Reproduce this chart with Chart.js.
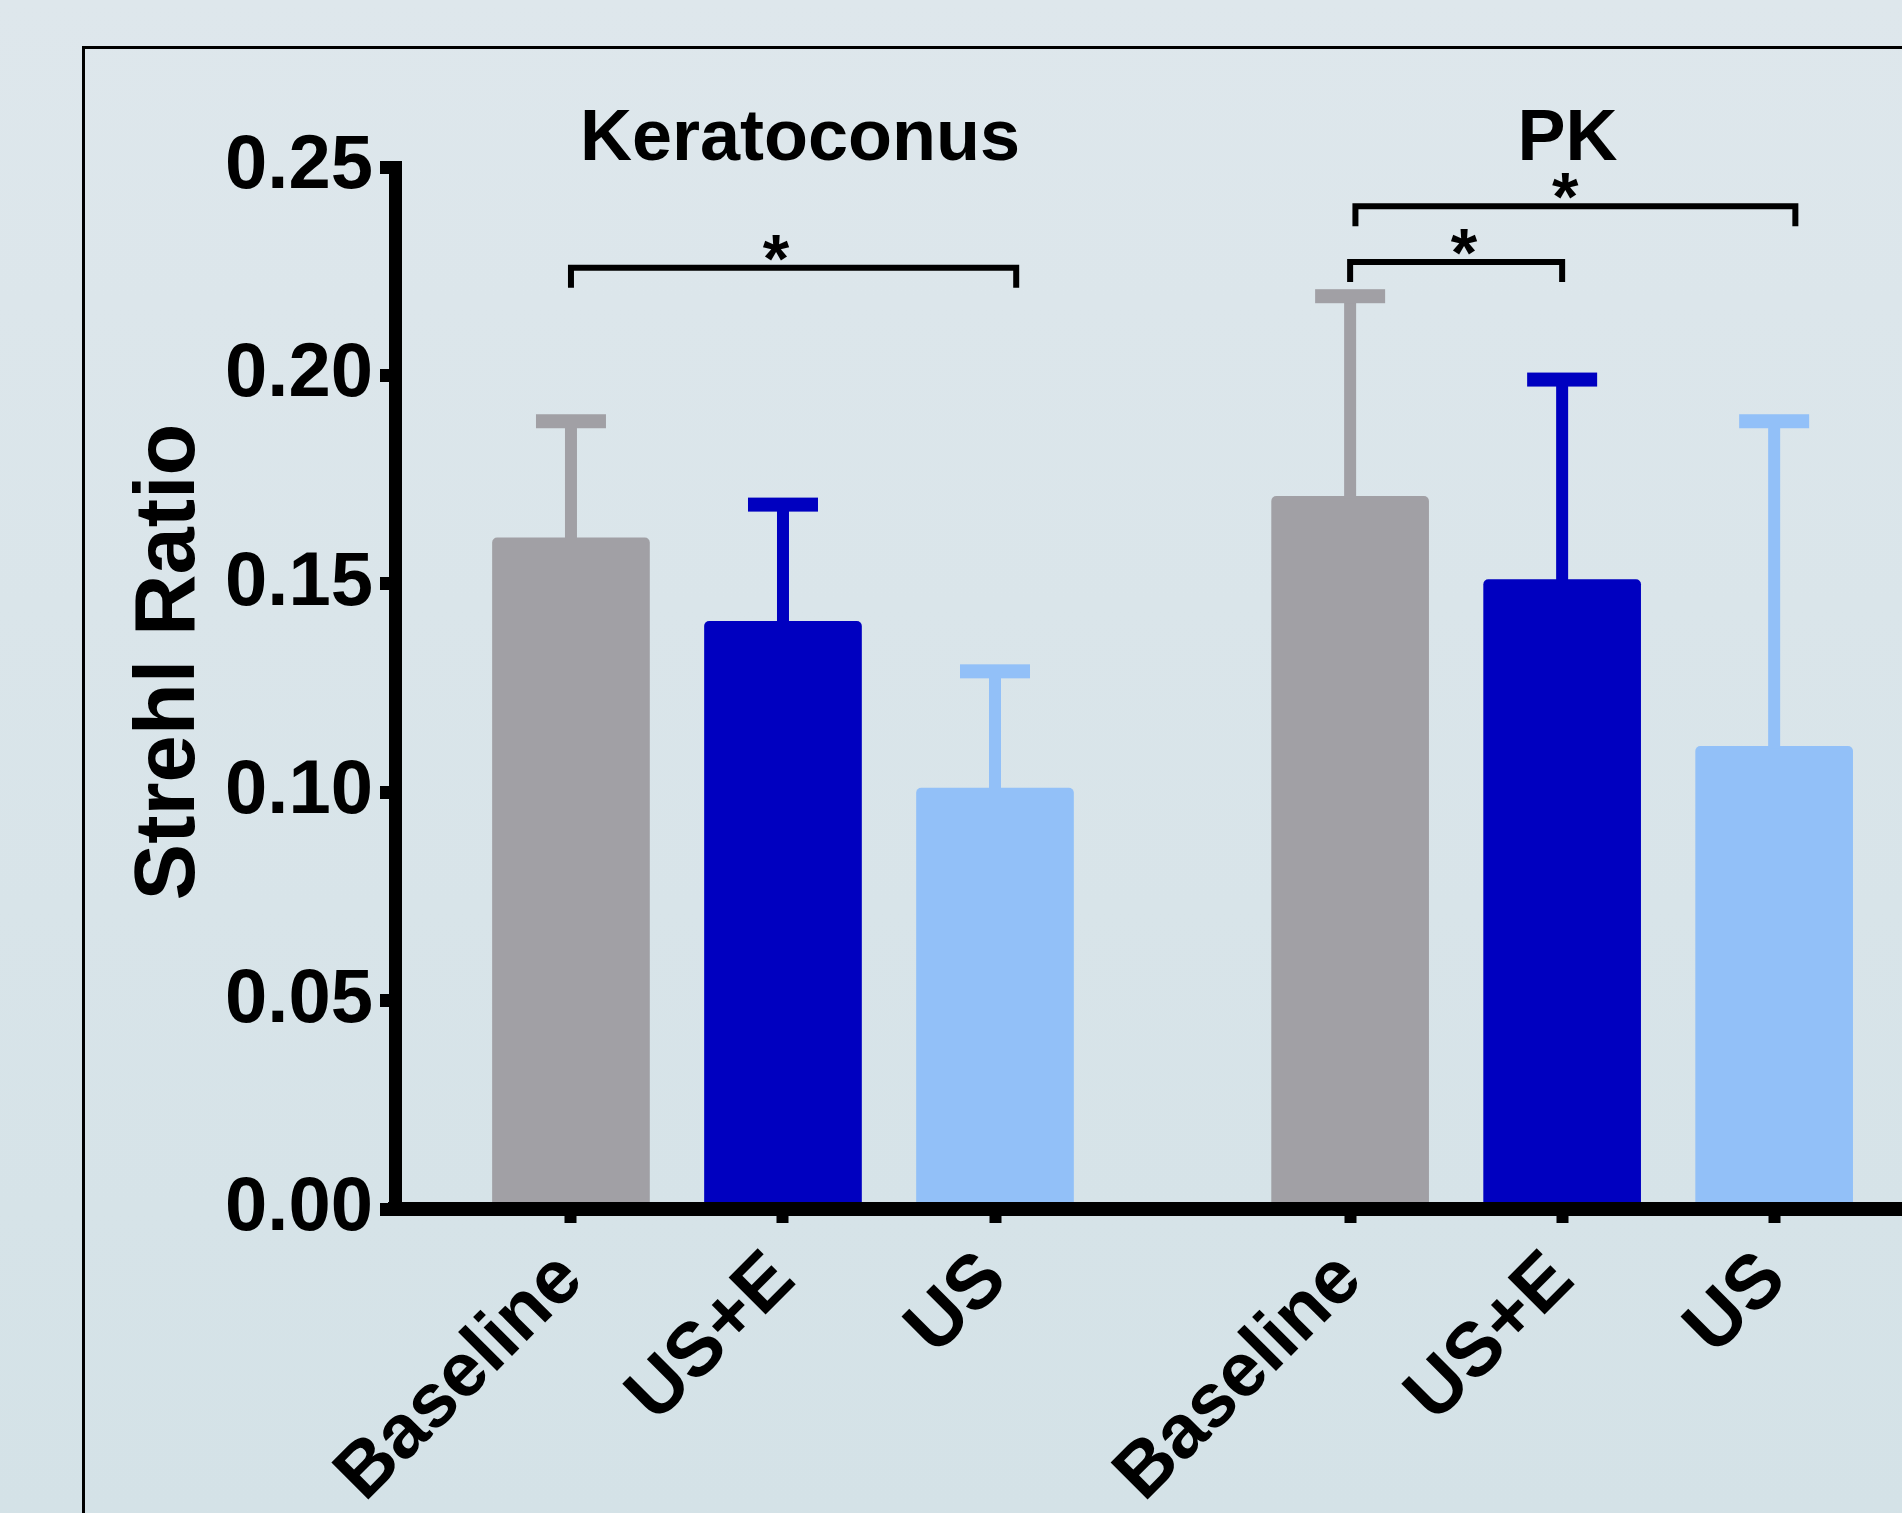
<!DOCTYPE html>
<html>
<head>
<meta charset="utf-8">
<script src="https://cdn.jsdelivr.net/npm/chart.js@4"></script>
<style>
  html, body { margin: 0; padding: 0; }
  body {
    width: 1902px; height: 1513px; overflow: hidden; position: relative;
    background: linear-gradient(to bottom, #dee7ec, #d4e2e7);
  }
  #frame {
    position: absolute; left: 82px; top: 46px; width: 2000px; height: 2000px;
    border-left: 3px solid #000; border-top: 3px solid #000;
  }
  #chart { position: absolute; left: 0; top: 0; }
</style>
</head>
<body>
<div id="frame"></div>
<canvas id="chart" width="1902" height="1513"></canvas>
<script>
// data
const categoryLabels = ['Baseline', 'US+E', 'US', 'Baseline', 'US+E', 'US'];
const categoryPos = [0, 1, 2, 3.675, 4.675, 5.675];
const meanValues = [0.161, 0.141, 0.101, 0.171, 0.151, 0.111];
const sdValues = [0.028, 0.028, 0.028, 0.048, 0.048, 0.078];
const yTicks = [0, 0.05, 0.10, 0.15, 0.20, 0.25];

const groupNames = ['Keratoconus', 'PK'];
const groupTitlePos = [1.08, 4.7];

// significance brackets (x in category units, y in Strehl ratio)
const bracketStart = [0, 3.675, 3.7];
const bracketEnd = [2.1, 4.675, 5.775];
const bracketLevel = [0.2258, 0.2272, 0.2406];
const bracketMark = ['*', '*', '*'];
const markPos = [0.967, 4.212, 4.689];

const barColors = ['#a1a0a5', '#0000c0', '#92c0f8', '#a1a0a5', '#0000c0', '#92c0f8'];
const FONT = "'Liberation Sans', Arial, Helvetica, sans-serif";

const errorBars = {
  id: 'errorBars',
  afterDatasetsDraw(chart) {
    const { ctx, scales: { x, y } } = chart;
    ctx.save();
    for (let i = 0; i < meanValues.length; i++) {
      const px = x.getPixelForValue(categoryPos[i]);
      const top = y.getPixelForValue(meanValues[i] + sdValues[i]);
      const base = y.getPixelForValue(meanValues[i]);
      ctx.fillStyle = barColors[i];
      ctx.fillRect(px - 6, top, 12, base - top + 2);
      ctx.fillRect(px - 35, top - 7, 70, 14);
    }
    ctx.restore();
  }
};

const annotations = {
  id: 'annotations',
  afterDraw(chart) {
    const { ctx, scales: { x, y } } = chart;
    ctx.save();
    ctx.fillStyle = '#000';
    ctx.strokeStyle = '#000';

    // brackets + stars
    ctx.lineWidth = 6;
    ctx.lineJoin = 'miter';
    for (let i = 0; i < bracketStart.length; i++) {
      const x1 = x.getPixelForValue(bracketStart[i]);
      const x2 = x.getPixelForValue(bracketEnd[i]);
      const yy = y.getPixelForValue(bracketLevel[i]);
      ctx.beginPath();
      ctx.moveTo(x1, yy + 20);
      ctx.lineTo(x1, yy);
      ctx.lineTo(x2, yy);
      ctx.lineTo(x2, yy + 20);
      ctx.stroke();

      ctx.font = 'bold 68px ' + FONT;
      ctx.textAlign = 'center';
      ctx.textBaseline = 'alphabetic';
      const m = ctx.measureText(bracketMark[i]);
      const cy = yy - 20;
      const by = cy + (m.actualBoundingBoxAscent - m.actualBoundingBoxDescent) / 2;
      ctx.fillText(bracketMark[i], x.getPixelForValue(markPos[i]), by);
    }

    // group titles
    ctx.font = 'bold 72px ' + FONT;
    ctx.textAlign = 'center';
    ctx.textBaseline = 'alphabetic';
    for (let g = 0; g < groupNames.length; g++) {
      ctx.fillText(groupNames[g], x.getPixelForValue(groupTitlePos[g]), 160);
    }

    // y axis title
    ctx.translate(194, 662);
    ctx.rotate(-Math.PI / 2);
    ctx.font = 'bold 85px ' + FONT;
    ctx.textAlign = 'center';
    ctx.fillText('Strehl Ratio', 0, 0);
    ctx.restore();
  }
};

const data = {
  datasets: [{
    data: categoryPos.map((p, i) => ({ x: p, y: meanValues[i] })),
    backgroundColor: barColors,
    borderWidth: 0,
    borderRadius: { topLeft: 5, topRight: 5, bottomLeft: 0, bottomRight: 0 },
    borderSkipped: 'start',
    barThickness: 157
  }]
};

const config = {
  type: 'bar',
  data,
  options: {
    responsive: false,
    animation: false,
    devicePixelRatio: 1,
    layout: { padding: { top: 167, left: 0, right: 0, bottom: 0 } },
    plugins: { legend: { display: false }, tooltip: { enabled: false } },
    scales: {
      x: {
        type: 'linear',
        offset: false,
        min: -0.83,
        max: 6.278,
        afterBuildTicks: s => { s.ticks = categoryPos.map(v => ({ value: v })); },
        afterFit: s => { s.height = 304; },
        grid: { offset: false, drawOnChartArea: false, drawTicks: true, tickLength: 14, tickWidth: 12, tickColor: '#000' },
        border: { display: true, width: 14, color: '#000', z: 1 },
        ticks: {
          autoSkip: false,
          minRotation: 45,
          maxRotation: 45,
          padding: 12,
          color: '#000',
          font: { family: FONT, size: 76, weight: 'bold' },
          callback: (v, i) => categoryLabels[i]
        }
      },
      y: {
        min: 0,
        max: 0.25,
        afterBuildTicks: s => { s.ticks = yTicks.map(v => ({ value: v })); },
        afterFit: s => { s.width = 395; },
        grid: { drawOnChartArea: false, drawTicks: true, tickLength: 15, tickWidth: 13, tickColor: '#000' },
        border: { display: true, width: 13, color: '#000', z: 1 },
        ticks: {
          padding: 7,
          color: '#000',
          font: { family: FONT, size: 76, weight: 'bold' },
          callback: v => v.toFixed(2)
        }
      }
    }
  },
  plugins: [errorBars, annotations]
};

const strehlChart = new Chart(document.getElementById('chart'), config);
</script>
</body>
</html>
